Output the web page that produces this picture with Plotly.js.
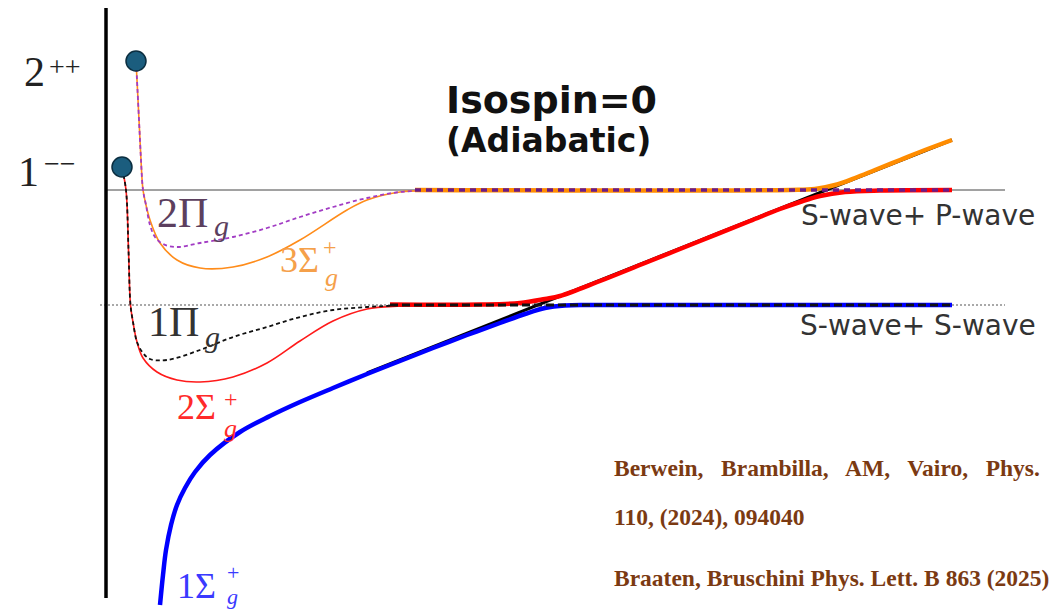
<!DOCTYPE html>
<html>
<head>
<meta charset="utf-8">
<script src="https://cdn.plot.ly/plotly-3.0.1.min.js"></script>
<style>
  html, body { margin: 0; padding: 0; background: #fff; overflow: hidden; }
  #plot { width: 1051px; height: 610px; }
</style>
</head>
<body>
<div id="plot"></div>
<script>
// Adiabatic potentials, isospin 0 (schematic units: r along x, energy along y,
// S-wave+S-wave threshold at 0).
const thresholdSS = 0;
const thresholdSP = 1.15;
const thresholdNames = ["S-wave+ S-wave", "S-wave+ P-wave"];

// 1Σg+ (ground potential)
const r_1Sg = [0.54, 0.57, 0.60, 0.65, 0.71, 0.79, 0.89, 1.04, 1.34, 1.64, 1.94, 2.27, 2.61, 2.94, 3.27, 3.61, 3.94, 4.19, 4.39, 4.59, 4.84, 8.46];
const V_1Sg = [-3.00, -2.70, -2.45, -2.20, -2.00, -1.83, -1.67, -1.50, -1.27, -1.11, -0.97, -0.83, -0.69, -0.56, -0.43, -0.30, -0.18, -0.09, -0.03, -0.005, 0, 0];

// diabatic string-like line
const r_string = [2.61, 8.46];
const V_string = [-0.68, 1.65];

// 2Σg+ : short-distance part and long-distance part
const r_2Sg_in = [0.16, 0.20, 0.225, 0.245, 0.27, 0.31, 0.37, 0.51, 0.71, 0.94, 1.27, 1.61, 1.94, 2.27, 2.61, 2.94, 3.14];
const V_2Sg_in = [1.37, 1.15, 0.55, 0, -0.17, -0.37, -0.53, -0.67, -0.75, -0.77, -0.72, -0.58, -0.36, -0.16, -0.04, -0.01, -0.003];
const r_2Sg_out = [2.84, 3.74, 4.14, 4.39, 4.54, 4.94, 5.44, 5.94, 6.44, 6.74, 6.94, 7.14, 7.39, 7.74, 8.46];
const V_2Sg_out = [0.005, 0.005, 0.02, 0.06, 0.09, 0.24, 0.44, 0.64, 0.84, 0.96, 1.03, 1.09, 1.13, 1.145, 1.15];

// 1Πg
const r_1Pg = [0.16, 0.20, 0.225, 0.245, 0.27, 0.31, 0.37, 0.44, 0.61, 0.94, 1.27, 1.61, 1.94, 2.27, 2.61, 2.94, 3.24];
const V_1Pg = [1.37, 1.15, 0.55, 0, -0.17, -0.37, -0.48, -0.54, -0.55, -0.45, -0.32, -0.22, -0.12, -0.05, -0.02, -0.005, 0];
const r_1Pg_flat = [2.84, 8.46];
const V_1Pg_flat = [0, 0];

// 3Σg+
const r_3Sg_in = [0.30, 0.31, 0.32, 0.335, 0.35, 0.37, 0.40, 0.44, 0.54, 0.71, 0.94, 1.27, 1.61, 1.94, 2.41, 2.61, 2.94, 3.27, 3.44];
const V_3Sg_in = [2.44, 2.25, 2.05, 1.75, 1.45, 1.15, 1.00, 0.85, 0.62, 0.45, 0.37, 0.38, 0.48, 0.65, 0.95, 1.05, 1.13, 1.145, 1.15];
const r_3Sg_out = [3.09, 6.84, 7.09, 7.29, 7.49, 7.69, 7.94, 8.19, 8.46];
const V_3Sg_out = [1.15, 1.15, 1.16, 1.20, 1.27, 1.35, 1.45, 1.55, 1.65];

// 2Πg
const r_2Pg = [0.30, 0.31, 0.32, 0.335, 0.35, 0.37, 0.40, 0.44, 0.49, 0.57, 0.71, 0.94, 1.27, 1.61, 1.94, 2.27, 2.61, 2.94, 3.27, 3.44];
const V_2Pg = [2.44, 2.25, 2.05, 1.75, 1.45, 1.15, 1.00, 0.80, 0.68, 0.61, 0.58, 0.62, 0.68, 0.77, 0.88, 0.98, 1.07, 1.13, 1.145, 1.15];
const r_2Pg_flat = [3.09, 8.46];
const V_2Pg_flat = [1.15, 1.15];

// hybrid states at short distance: J^PC = 1--, 2++
const stateJ = ["1", "2"];
const statePC = ["−−", "++"];
const stateR = [0.16, 0.30];
const stateV = [1.38, 2.44];

// extent of drawn frame
const axisTop = 2.97, axisBottom = -2.93;
const thresholdStart = [-0.06, 0.0];
const thresholdEnd = 8.99;

const refLines = [
  "Berwein,\u00a0\u00a0 Brambilla,\u00a0\u00a0 AM,\u00a0\u00a0 Vairo,\u00a0\u00a0 Phys.",
  "110, (2024), 094040",
  "Braaten, Bruschini Phys. Lett. B 863 (2025)"
];

const line = (x, y, color, width, dash) => ({
  type: 'scatter', mode: 'lines', x, y, hoverinfo: 'skip',
  line: { color, width, dash: dash || 'solid', shape: 'spline', smoothing: 1 }
});
const straight = (x, y, color, width, dash) => ({
  type: 'scatter', mode: 'lines', x, y, hoverinfo: 'skip',
  line: { color, width, dash: dash || 'solid' }
});

const traces = [
  // thresholds
  straight([thresholdStart[1], thresholdEnd], [thresholdSP, thresholdSP], '#444', 1),
  straight([thresholdStart[0], thresholdEnd], [thresholdSS, thresholdSS], '#555', 1.2, '2px,2px'),
  // energy axis
  straight([0, 0], [axisBottom, axisTop], '#000', 3.5),
  // diabatic line
  straight(r_string, V_string, '#000', 3),
  // thin short-distance curves
  line(r_2Sg_in, V_2Sg_in, '#ff1a1a', 1.6),
  line(r_1Pg, V_1Pg, '#111', 1.8, '4px,3px'),
  line(r_3Sg_in, V_3Sg_in, '#ff8c1a', 1.6),
  line(r_2Pg, V_2Pg, '#a23cc4', 1.8, '4px,3px'),
  // thick long-distance curves
  line(r_1Sg, V_1Sg, '#0000ff', 4.5),
  line(r_2Sg_out, V_2Sg_out, '#ff0000', 4.5),
  line(r_3Sg_out, V_3Sg_out, '#ff8c00', 4.5),
  straight(r_1Pg_flat, V_1Pg_flat, '#111', 3, '8px,4px'),
  straight(r_2Pg_flat, V_2Pg_flat, '#6a1b8a', 3.5, '6px,5px'),
  // states
  {
    type: 'scatter', mode: 'markers', x: stateR, y: stateV, hoverinfo: 'skip',
    marker: { size: 20, color: '#1b5d7e', line: { color: '#0b2e40', width: 1.5 } }
  }
];

const serif = "Liberation Serif, DejaVu Serif, serif";
const sans = "DejaVu Sans, Verdana, sans-serif";
const ann = (x, y, text, size, color, family, xanchor) => ({
  x, y, xref: 'x', yref: 'y', text, showarrow: false,
  xanchor: xanchor || 'left', yanchor: 'middle',
  font: { size, color, family }
});

const annotations = [
  ann(-0.72, 2.33, stateJ[1], 42, '#222', serif, 'center'),
  ann(-0.41, 2.39, statePC[1], 28, '#222', serif, 'center'),
  ann(-0.78, 1.33, stateJ[0], 42, '#222', serif, 'center'),
  ann(-0.46, 1.42, statePC[0], 28, '#222', serif, 'center'),

  ann(0.49, 0.92, '2Π', 42, '#5c3f5e', serif),
  ann(1.06, 0.80, '<i>g</i>', 30, '#5c3f5e', serif),

  ann(1.72, 0.45, '3Σ', 36, '#f5a04a', serif),
  ann(2.24, 0.58, '+', 24, '#f5a04a', serif, 'center'),
  ann(2.25, 0.28, '<i>g</i>', 26, '#f5a04a', serif, 'center'),

  ann(0.40, -0.17, '1Π', 42, '#333', serif),
  ann(0.97, -0.31, '<i>g</i>', 30, '#333', serif),

  ann(0.69, -1.02, '2Σ', 36, '#ff2a2a', serif),
  ann(1.25, -0.94, '+', 24, '#ff2a2a', serif, 'center'),
  ann(1.24, -1.23, '<i>g</i>', 26, '#ff2a2a', serif, 'center'),

  ann(0.69, -2.81, '1Σ', 36, '#3a3aff', serif),
  ann(1.27, -2.67, '+', 22, '#3a3aff', serif, 'center'),
  ann(1.26, -2.91, '<i>g</i>', 22, '#3a3aff', serif, 'center'),

  ann(4.45, 2.05, '<b>Isospin=0</b>', 38, '#111', sans, 'center'),
  ann(4.42, 1.65, '<b>(Adiabatic)</b>', 33, '#111', sans, 'center'),

  ann(8.12, thresholdSP - 0.25, thresholdNames[1], 28, '#333', sans, 'center'),
  ann(8.12, thresholdSS - 0.20, thresholdNames[0], 28, '#333', sans, 'center'),

  ann(5.06, -1.63, '<b>' + refLines[0] + '</b>', 23.5, '#7b3a12', serif),
  ann(5.06, -2.12, '<b>' + refLines[1] + '</b>', 23.5, '#7b3a12', serif),
  ann(5.06, -2.73, '<b>' + refLines[2] + '</b>', 23.5, '#7b3a12', serif)
];

const layout = {
  width: 1051, height: 610,
  margin: { l: 0, r: 0, t: 0, b: 0 },
  paper_bgcolor: '#fff', plot_bgcolor: '#fff',
  showlegend: false,
  xaxis: { range: [-1.06, 9.45], visible: false, fixedrange: true },
  yaxis: { range: [-3.05, 3.05], visible: false, fixedrange: true },
  annotations
};

Plotly.newPlot('plot', traces, layout, { staticPlot: true, displayModeBar: false });
</script>
</body>
</html>
